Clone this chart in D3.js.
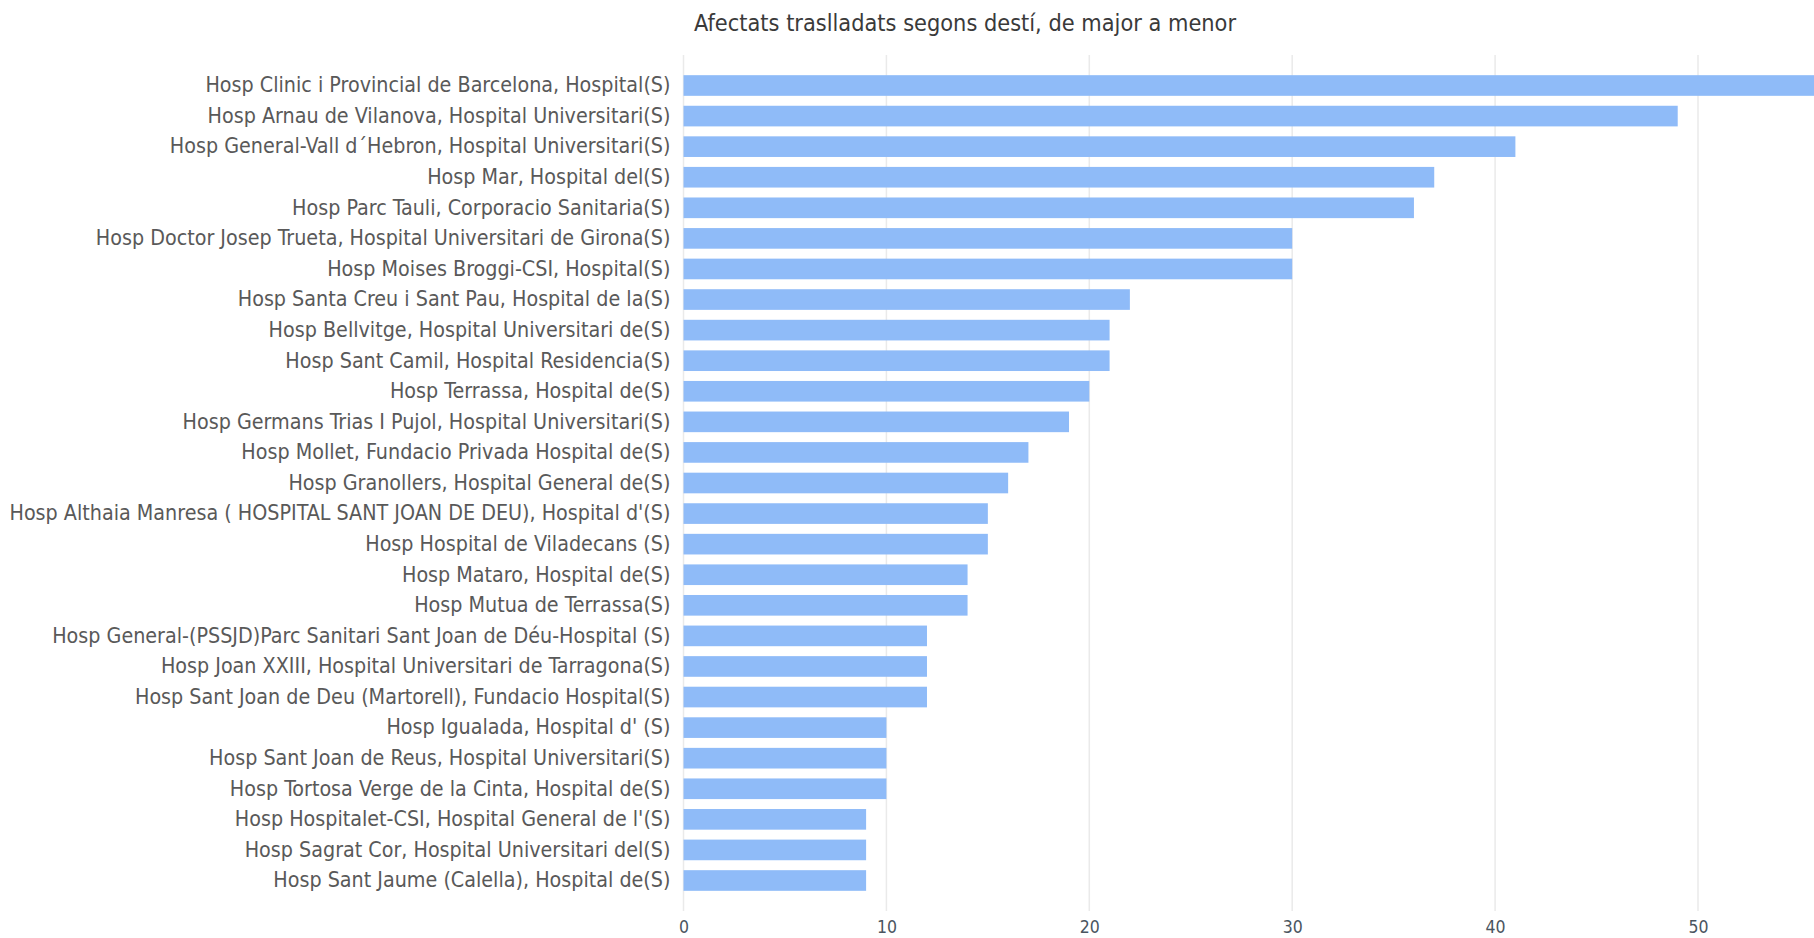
<!DOCTYPE html>
<html>
<head>
<meta charset="utf-8">
<script src="https://cdn.jsdelivr.net/npm/d3@7"></script>
<style>
  html, body { margin: 0; padding: 0; background: #ffffff; overflow: hidden; }
  svg { display: block; }
  text { font-family: "Liberation Sans Narrow", "DejaVu Sans Condensed", "Roboto", sans-serif; }
</style>
</head>
<body>
<svg id="chart" width="1814" height="938"></svg>
<script>
const title = "Afectats traslladats segons destí, de major a menor";

const categories = [
  "Hosp Clinic i Provincial de Barcelona, Hospital(S)",
  "Hosp Arnau de Vilanova, Hospital Universitari(S)",
  "Hosp General-Vall d´Hebron, Hospital Universitari(S)",
  "Hosp Mar, Hospital del(S)",
  "Hosp Parc Tauli, Corporacio Sanitaria(S)",
  "Hosp Doctor Josep Trueta, Hospital Universitari de Girona(S)",
  "Hosp Moises Broggi-CSI, Hospital(S)",
  "Hosp Santa Creu i Sant Pau, Hospital de la(S)",
  "Hosp Bellvitge, Hospital Universitari de(S)",
  "Hosp Sant Camil, Hospital Residencia(S)",
  "Hosp Terrassa, Hospital de(S)",
  "Hosp Germans Trias I Pujol, Hospital Universitari(S)",
  "Hosp Mollet, Fundacio Privada Hospital de(S)",
  "Hosp Granollers, Hospital General de(S)",
  "Hosp Althaia Manresa ( HOSPITAL SANT JOAN DE DEU), Hospital d'(S)",
  "Hosp Hospital de Viladecans (S)",
  "Hosp Mataro, Hospital de(S)",
  "Hosp Mutua de Terrassa(S)",
  "Hosp General-(PSSJD)Parc Sanitari Sant Joan de Déu-Hospital (S)",
  "Hosp Joan XXIII, Hospital Universitari de Tarragona(S)",
  "Hosp Sant Joan de Deu (Martorell), Fundacio Hospital(S)",
  "Hosp Igualada, Hospital d' (S)",
  "Hosp Sant Joan de Reus, Hospital Universitari(S)",
  "Hosp Tortosa Verge de la Cinta, Hospital de(S)",
  "Hosp Hospitalet-CSI, Hospital General de l'(S)",
  "Hosp Sagrat Cor, Hospital Universitari del(S)",
  "Hosp Sant Jaume (Calella), Hospital de(S)"
];

const values = [56, 49, 41, 37, 36, 30, 30, 22, 21, 21, 20, 19, 17, 16, 15, 15, 14, 14, 12, 12, 12, 10, 10, 10, 9, 9, 9];

const tickValues = [0, 10, 20, 30, 40, 50];

const svg = d3.select("#chart");
const W = 1814, H = 938;

const x0 = 683.5, pxPerUnit = 20.29;
const x = d3.scaleLinear().domain([0, 50]).range([x0, x0 + 50 * pxPerUnit]);

const y = d3.scaleBand()
  .domain(categories)
  .range([55, 911])
  .paddingInner(0.325)
  .paddingOuter(0.66);

// gridlines
svg.append("g")
  .selectAll("line")
  .data(tickValues)
  .join("line")
  .attr("x1", d => x(d)).attr("x2", d => x(d))
  .attr("y1", 55).attr("y2", 911)
  .attr("stroke", "#eaeaea")
  .attr("stroke-width", 1.5);

// bars
svg.append("clipPath").attr("id", "clip")
  .append("rect").attr("x", 0).attr("y", 0).attr("width", W).attr("height", H);

svg.append("g").attr("clip-path", "url(#clip)")
  .selectAll("rect")
  .data(values)
  .join("rect")
  .attr("x", x(0))
  .attr("y", (d, i) => y(categories[i]))
  .attr("width", d => x(d) - x(0))
  .attr("height", y.bandwidth())
  .attr("fill", "#8fbbf8");

// category axis labels
const yAxis = d3.axisLeft(y).tickSize(0).tickPadding(0);
const gy = svg.append("g").attr("transform", `translate(${x0 - 13},0)`).call(yAxis);
gy.select(".domain").remove();
gy.selectAll("text")
  .attr("font-size", 21.3)
  .attr("fill", "#595959")
  .attr("font-family", null);

// x axis tick labels
const xAxis = d3.axisBottom(x).tickValues(tickValues).tickSize(0).tickPadding(0);
const gx = svg.append("g").attr("transform", `translate(0,921)`).call(xAxis);
gx.select(".domain").remove();
gx.selectAll("text")
  .attr("font-size", 17.5)
  .attr("fill", "#4a5560")
  .attr("font-family", null);

// title
svg.append("text")
  .attr("x", 965).attr("y", 31)
  .attr("text-anchor", "middle")
  .attr("font-size", 23.3)
  .attr("fill", "#3a3a3a")
  .text(title);
</script>
</body>
</html>
